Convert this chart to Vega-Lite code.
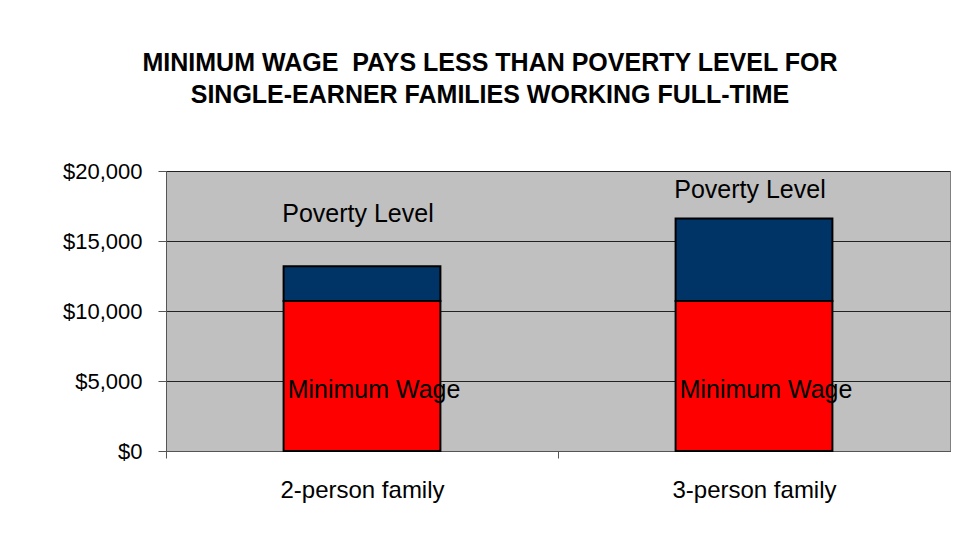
{
  "$schema": "https://vega.github.io/schema/vega-lite/v6.json",
  "width": 784,
  "height": 280,
  "padding": {"left": 10, "top": 51, "right": 30, "bottom": 10},
  "background": "white",
  "title": {
    "text": ["MINIMUM WAGE\u00a0 PAYS LESS THAN POVERTY LEVEL FOR", "SINGLE-EARNER FAMILIES WORKING FULL-TIME"],
    "font": "Liberation Sans",
    "fontSize": 25,
    "fontWeight": "bold",
    "color": "black",
    "lineHeight": 32,
    "anchor": "middle",
    "frame": "bounds",
    "dx": 10,
    "offset": 52
  },
  "data": {
    "values": [
      {"family": "2-person family", "series": "Minimum Wage", "value": 10712, "order": 1},
      {"family": "2-person family", "series": "Poverty Level", "value": 2488, "order": 2},
      {"family": "3-person family", "series": "Minimum Wage", "value": 10712, "order": 1},
      {"family": "3-person family", "series": "Poverty Level", "value": 5888, "order": 2}
    ]
  },
  "encoding": {
    "x": {
      "field": "family",
      "type": "nominal",
      "sort": null,
      "scale": {"paddingInner": 0.6, "paddingOuter": 0.3},
      "axis": {
        "title": null,
        "labelAngle": 0,
        "labelFont": "Liberation Sans",
        "labelFontSize": 24,
        "labelColor": "black",
        "labelPadding": 20,
        "tickOffset": -196,
        "labelOffset": 196,
        "tickSize": 7,
        "tickColor": "#555",
        "domainColor": "#555",
        "grid": false
      }
    },
    "y": {
      "field": "value",
      "type": "quantitative",
      "aggregate": "sum",
      "stack": "zero",
      "scale": {"domain": [0, 20000]},
      "axis": {
        "title": null,
        "values": [0, 5000, 10000, 15000, 20000],
        "format": "$,d",
        "labelFont": "Liberation Sans",
        "labelFontSize": 22,
        "labelColor": "black",
        "labelPadding": 16,
        "tickSize": 8,
        "tickColor": "#555",
        "domainColor": "#555",
        "gridColor": "#222",
        "gridOpacity": 1,
        "minExtent": 156,
        "maxExtent": 156
      }
    },
    "order": {"field": "order"}
  },
  "layer": [
    {
      "mark": {"type": "bar", "stroke": "black", "strokeWidth": 2},
      "encoding": {
        "color": {
          "field": "series",
          "type": "nominal",
          "scale": {"domain": ["Minimum Wage", "Poverty Level"], "range": ["#FF0000", "#003366"]},
          "legend": null
        }
      }
    },
    {
      "mark": {"type": "text", "font": "Liberation Sans", "fontSize": 25, "color": "black", "dy": -70, "dx": -4, "baseline": "middle"},
      "encoding": {
        "y": {"field": "value", "type": "quantitative", "aggregate": "sum", "stack": "zero", "bandPosition": 0.5},
        "detail": {"field": "series"},
        "text": {"condition": {"test": "datum.series === 'Poverty Level'", "field": "series"}, "value": ""}
      }
    },
    {
      "mark": {"type": "text", "font": "Liberation Sans", "fontSize": 25, "color": "black", "dy": 14, "dx": 12, "baseline": "middle"},
      "encoding": {
        "y": {"field": "value", "type": "quantitative", "aggregate": "sum", "stack": "zero", "bandPosition": 0.5},
        "detail": {"field": "series"},
        "text": {"condition": {"test": "datum.series === 'Minimum Wage'", "field": "series"}, "value": ""}
      }
    }
  ],
  "config": {
    "view": {"fill": "#C0C0C0", "stroke": "#808080", "strokeWidth": 1}
  }
}
